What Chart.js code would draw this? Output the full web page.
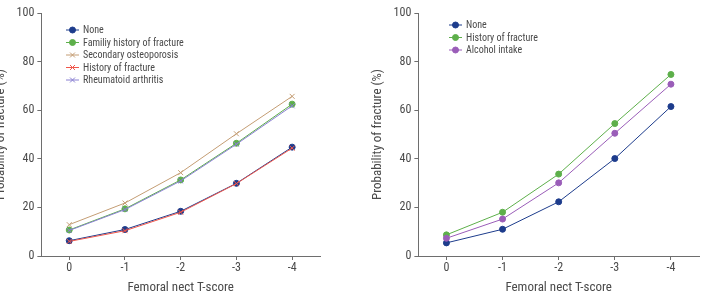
<!DOCTYPE html>
<html>
<head>
<meta charset="utf-8">
<script src="https://cdn.jsdelivr.net/npm/chart.js@4/dist/chart.umd.min.js"></script>
<style>
  body { margin: 0; background: #fff; }
  #wrap { position: relative; width: 704px; height: 294px; overflow: hidden; }
  #leftBox { position: absolute; left: -25px; top: 0; }
  #rightBox { position: absolute; left: 352px; top: 0; }
  canvas { display: block; }
</style>
</head>
<body>
<div id="wrap">
  <div id="leftBox"><canvas id="leftChart" width="350" height="296"></canvas></div>
  <div id="rightBox"><canvas id="rightChart" width="352" height="296"></canvas></div>
</div>
<script>
// T-score categories (shared by both panels)
const tScores = ['0', '-1', '-2', '-3', '-4'];

// left panel
const leftNone = [6.3, 10.9, 18.4, 29.9, 44.8];
const leftFamilyHistory = [10.7, 19.4, 31.3, 46.4, 62.5];
const leftSecondary = [12.9, 21.8, 34.3, 50.3, 65.7];
const leftHistory = [6.0, 10.4, 18.0, 29.8, 44.4];
const leftRheumatoid = [10.5, 19.1, 30.9, 46.0, 61.8];

// right panel
const rightNone = [5.4, 11.0, 22.3, 40.1, 61.5];
const rightHistory = [8.7, 18.0, 33.7, 54.5, 74.7];
const rightAlcohol = [7.3, 15.2, 30.1, 50.5, 70.7];

const FONT = "'Roboto Condensed', 'Roboto', sans-serif";
const TEXT = '#4a4a4a';
const AXIS = '#6e6e6e';

function series(label, data, color, style, order) {
  return {
    label: label,
    data: data,
    borderColor: color,
    backgroundColor: color,
    pointBackgroundColor: color,
    pointBorderColor: color,
    pointStyle: style,
    pointRadius: style == 'circle' ? 3 : 3.5,
    pointBorderWidth: 1,
    borderWidth: 1,
    tension: 0,
    fill: false,
    order: order
  };
}

// legend drawn inside the plot area: short line + marker, then label
const lineLegend = {
  id: 'lineLegend',
  afterDraw(chart, args, opts) {
    const ctx = chart.ctx;
    ctx.save();
    ctx.font = opts.fontSize + 'px ' + FONT;
    ctx.textBaseline = 'middle';
    chart.data.datasets.forEach((ds, i) => {
      const y = opts.y + i * opts.rowH;
      ctx.strokeStyle = ds.borderColor;
      ctx.lineWidth = 1;
      ctx.beginPath();
      ctx.moveTo(opts.x, y);
      ctx.lineTo(opts.x + 13, y);
      ctx.stroke();
      ctx.fillStyle = ds.backgroundColor;
      Chart.helpers.drawPoint(ctx, {
        pointStyle: ds.pointStyle,
        radius: ds.pointRadius,
        borderWidth: 1,
        rotation: 0
      }, opts.x + 6.5, y);
      ctx.fillStyle = TEXT;
      ctx.fillText(ds.label, opts.x + 17, y + 0.5);
    });
    ctx.restore();
  }
};

function makeOptions(padRight, legendX, legendY) {
  return {
    responsive: false,
    devicePixelRatio: 1,
    animation: false,
    layout: { padding: { top: 13, left: 14, right: padRight, bottom: 0 } },
    plugins: {
      legend: { display: false },
      tooltip: { enabled: false },
      lineLegend: { x: legendX, y: legendY, rowH: 12.5, fontSize: 10 }
    },
    scales: {
      x: {
        offset: true,
        grid: { offset: false, drawOnChartArea: false, color: AXIS, tickLength: 4 },
        border: { color: AXIS, width: 1 },
        ticks: { color: TEXT, font: { family: FONT, size: 12 }, padding: 1 },
        title: {
          display: true, text: 'Femoral nect T-score', color: TEXT,
          font: { family: FONT, size: 13 }, padding: { top: 4, bottom: 0 }
        }
      },
      y: {
        min: 0, max: 100,
        grid: { drawOnChartArea: false, color: AXIS, tickLength: 4 },
        border: { color: AXIS, width: 1 },
        ticks: { stepSize: 20, color: TEXT, font: { family: FONT, size: 12 }, padding: 3 },
        title: {
          display: true, text: 'Probability of fracture (%)', color: TEXT,
          font: { family: FONT, size: 13 }, padding: { top: 4, bottom: 5 }
        }
      }
    }
  };
}

new Chart(document.getElementById('leftChart').getContext('2d'), {
  type: 'line',
  data: {
    labels: tScores,
    datasets: [
      series('None', leftNone, '#1d3c8c', 'circle', 5),
      series('Familiy history of fracture', leftFamilyHistory, '#5daf4a', 'circle', 4),
      series('Secondary osteoporosis', leftSecondary, '#c49d74', 'crossRot', 3),
      series('History of fracture', leftHistory, '#f0564a', 'crossRot', 2),
      series('Rheumatoid arthritis', leftRheumatoid, '#8a80d2', 'crossRot', 1)
    ]
  },
  options: makeOptions(5, 91, 30),
  plugins: [lineLegend]
});

new Chart(document.getElementById('rightChart').getContext('2d'), {
  type: 'line',
  data: {
    labels: tScores,
    datasets: [
      series('None', rightNone, '#1d3c8c', 'circle', 3),
      series('History of fracture', rightHistory, '#5daf4a', 'circle', 2),
      series('Alcohol intake', rightAlcohol, '#9a5db8', 'circle', 1)
    ]
  },
  options: makeOptions(0, 97, 25),
  plugins: [lineLegend]
});
</script>
</body>
</html>
